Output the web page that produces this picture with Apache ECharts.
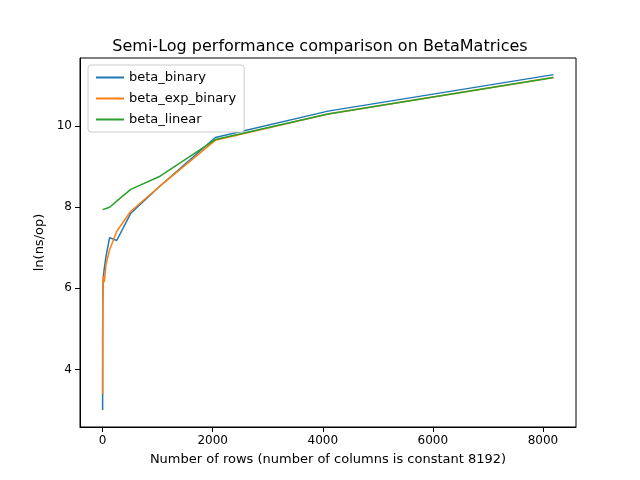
<!DOCTYPE html><html><head><meta charset="utf-8"><script src="https://cdn.jsdelivr.net/npm/echarts@6/dist/echarts.min.js"></script></head><body style="margin:0"><div id="c" style="width:640px;height:480px"></div><script>
const xs=[1,2,4,8,16,32,64,128,256,512,1024,2048,4096,8192];
const binary=[3.0,4.8,5.6,6.1,6.3,6.5,6.8,7.25,7.18,7.85,8.5,9.72,10.37,11.27];
const expBinary=[3.4,5.0,5.8,6.2,6.3,6.15,6.6,6.95,7.4,7.9,8.5,9.65,10.3,11.2];
const linear=[7.94,7.94,7.94,7.95,7.95,7.96,7.97,8.0,8.15,8.44,8.75,9.67,10.3,11.2];
const xTicks=[0,2000,4000,6000,8000];
const yTicks=[4,6,8,10];
const mk=(n,d,c)=>({name:n,type:'line',showSymbol:false,data:xs.map((x,i)=>[x,d[i]]),lineStyle:{width:1.5,color:c},itemStyle:{color:c}});
const ch=echarts.init(document.getElementById('c'));
ch.setOption({animation:false,textStyle:{fontFamily:'DejaVu Sans'},
title:{text:'Semi-Log performance comparison on BetaMatrices',left:'center',top:34,textStyle:{fontSize:16,fontWeight:'normal',color:'#000',fontFamily:'DejaVu Sans'}},
legend:{left:88,top:65,orient:'vertical',itemWidth:28,itemHeight:2,icon:'rect',itemGap:8,textStyle:{fontSize:13,color:'#000'},borderColor:'#ccc',borderWidth:1,borderRadius:3,padding:[6,8],backgroundColor:'#fff'},
grid:{left:80,right:64,top:58,bottom:53,show:true,borderColor:'#000',borderWidth:1},
xAxis:{type:'value',min:-410,max:8600,name:'Number of rows (number of columns is constant 8192)',nameLocation:'middle',nameGap:26,nameTextStyle:{fontSize:13,color:'#000'},axisLine:{onZero:false,lineStyle:{color:'#000'}},axisTick:{show:true,customValues:xTicks,lineStyle:{color:'#000'}},splitLine:{show:false},axisLabel:{color:'#000',fontSize:12,customValues:xTicks,formatter:v=>String(v)}},
yAxis:{type:'value',min:2.58,max:11.68,name:'ln(ns/op)',nameLocation:'middle',nameGap:34,nameTextStyle:{fontSize:13,color:'#000'},axisLine:{show:true,onZero:false,lineStyle:{color:'#000'}},axisTick:{show:true,customValues:yTicks,lineStyle:{color:'#000'}},splitLine:{show:false},axisLabel:{color:'#000',fontSize:12,customValues:yTicks}},
series:[mk('beta_binary',binary,'#1f77b4'),mk('beta_exp_binary',expBinary,'#ff7f0e'),mk('beta_linear',linear,'#2ca02c')]});
</script></body></html>
